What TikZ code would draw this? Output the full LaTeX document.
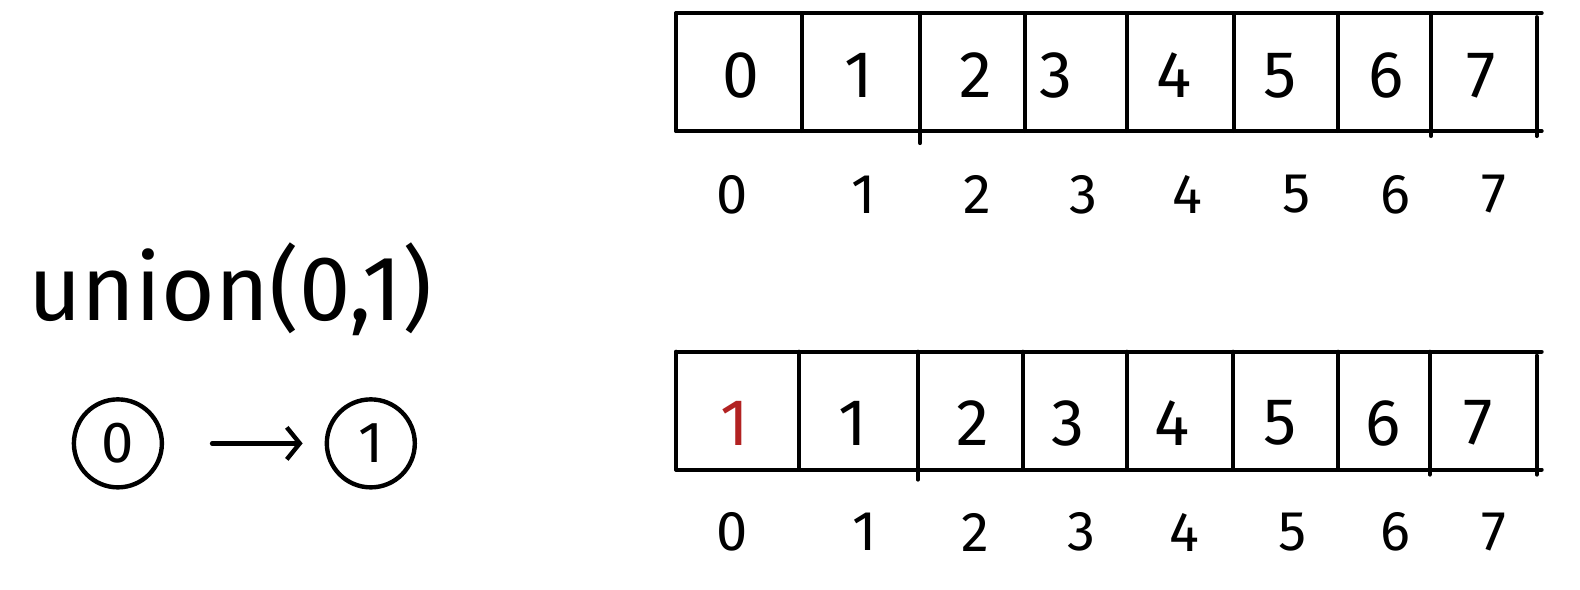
\documentclass[tikz,border=0pt]{standalone}
\usepackage{fontspec}
\setmainfont{Fira Sans}
\usetikzlibrary{arrows.meta}
\definecolor{handred}{RGB}{178,34,34}
\tikzset{
  grid/.style={line width=4pt, line cap=round},
  cellnum/.style={font=\fontsize{66}{66}\selectfont, inner sep=0pt},
  idxnum/.style={font=\fontsize{56}{56}\selectfont, inner sep=0pt},
  setnode/.style={circle, draw, line width=4.4pt, minimum size=88pt, inner sep=0pt, font=\fontsize{58}{58}\selectfont},
  linkarrow/.style={line width=4.4pt, line cap=round, -{Straight Barb[length=13pt,width=32pt,line width=4.4pt]}}
}
\begin{document}
\begin{tikzpicture}[x=1.0077pt, y=-1.0077pt]
\useasboundingbox (0,0) rectangle (1568,585);
% top array
\draw[grid] (671,13) -- (1530,13);
\draw[grid] (671,130) -- (1530,130);
\foreach \x in {671,796,1017,1118,1225,1328} \draw[grid] (\x,13) -- (\x,130);
\draw[grid] (913,13) -- (913,142);
\draw[grid] (1420,13) -- (1420,135);
\draw[grid] (1525,17) -- (1525,135);
\foreach \d/\x [count=\i from 0] in {0/735,1/852,2/968,3/1048,4/1165,5/1270,6/1376,7/1470}
  \node[cellnum] (ta\i) at (\x,75) {\d};
\foreach \d/\x [count=\i from 0] in {0/727,1/857,2/970,3/1075,4/1178,5/1287,6/1385,7/1483}
  \node[idxnum] (ti\i) at (\x,193) {\d};
% bottom array
\draw[grid] (671,349) -- (1530,349);
\draw[grid] (671,466) -- (1530,466);
\foreach \x in {671,793,1015,1118,1224,1328} \draw[grid] (\x,349) -- (\x,466);
\draw[grid] (911,349) -- (911,476);
\draw[grid] (1419,349) -- (1419,471);
\draw[grid] (1525,353) -- (1525,471);
\node[cellnum, text=handred] (ba0) at (729,420) {1};
\foreach \d/\x [count=\i from 1] in {1/846,2/965,3/1060,4/1163,5/1270,6/1373,7/1467}
  \node[cellnum] (ba\i) at (\x,420) {\d};
\foreach \d/\x [count=\i from 0] in {0/727,1/858,2/968,3/1073,4/1175,5/1283,6/1385,7/1483}
  \node[idxnum] (bi\i) at (\x,528) {\d};
% left side
\node[anchor=base west, inner sep=0pt, font=\fontsize{92}{92}\selectfont] (op) at (28,318) {union(0,1)};
\node[setnode] (c0) at (117,440) {0};
\node[setnode] (c1) at (368,440) {1};
\draw[linkarrow, shorten <=48pt, shorten >=22pt] (c0) -- (c1);
\end{tikzpicture}
\end{document}
